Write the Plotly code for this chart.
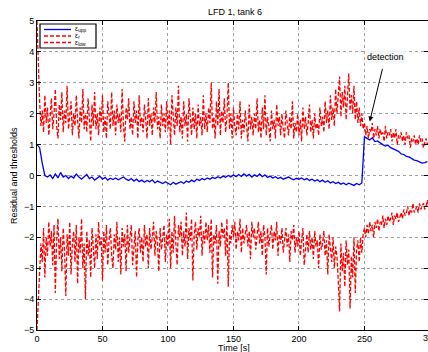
import plotly.graph_objects as go

# ---------------- data ----------------
t_thr = list(range(0, 300))

upper = [
 5.0, 3.2, 2.4, 1.6, 2.1, 1.4, 2.6, 1.7, 2.2, 1.3,
 1.9, 2.5, 1.5, 2.0, 2.8, 1.6, 1.2, 2.3, 1.8, 2.7,
 1.4, 2.1, 1.7, 2.9, 1.5, 1.9, 2.4, 1.3, 2.0, 1.6,
 2.6, 1.8, 1.2, 2.2, 1.7, 2.8, 1.5, 2.0, 1.4, 2.5,
 1.9, 1.1, 2.3, 1.6, 2.7, 1.5, 2.0, 1.3, 2.2, 1.7,
 2.6, 1.4, 1.9, 1.2, 2.4, 1.8, 1.5, 2.7, 1.6, 2.1,
 1.3, 2.3, 1.7, 2.0, 1.4, 2.8, 1.6, 1.1, 2.2, 1.8,
 2.5, 1.5, 1.9, 1.3, 2.4, 1.7, 2.1, 1.2, 2.6, 1.6,
 1.9, 1.4, 2.3, 1.8, 1.2, 2.5, 1.6, 2.0, 1.3, 2.2,
 1.7, 2.7, 1.5, 1.9, 1.2, 2.3, 1.6, 2.0, 1.4, 2.4,
 1.5, 2.1, 1.0, 2.6, 1.7, 1.3, 2.2, 1.6, 2.9, 1.4,
 1.9, 1.2, 2.4, 1.6, 2.0, 1.1, 2.5, 1.7, 1.3, 2.2,
 1.5, 2.0, 1.2, 2.3, 1.6, 1.9, 1.3, 2.6, 1.5, 2.0,
 1.4, 2.2, 1.7, 3.0, 1.5, 1.9, 1.2, 2.4, 1.6, 2.8,
 1.3, 2.1, 1.7, 2.5, 1.4, 1.9, 3.0, 1.5, 2.0, 1.2,
 2.2, 1.6, 1.3, 2.0, 1.5, 2.4, 1.2, 1.8, 1.4, 2.1,
 1.6, 1.1, 2.3, 1.5, 1.9, 1.3, 2.0, 1.5, 2.5, 1.4,
 1.8, 1.2, 2.2, 1.5, 2.6, 1.3, 1.9, 1.6, 1.1, 2.1,
 1.5, 1.8, 1.2, 2.3, 1.6, 1.9, 1.3, 2.0, 1.5, 1.2,
 2.1, 1.6, 1.3, 1.9, 1.5, 2.4, 1.2, 1.7, 1.4, 2.0,
 1.3, 1.8, 1.1, 2.2, 1.5, 1.9, 1.3, 1.7, 2.3, 1.4,
 1.8, 1.2, 2.0, 1.5, 1.7, 1.3, 2.2, 1.6, 1.9, 1.4,
 2.4, 1.7, 2.1, 1.5, 2.6, 1.8, 2.2, 1.6, 2.8, 2.0,
 2.5, 3.2, 1.9, 2.7, 2.2, 2.9, 1.8, 2.4, 3.3, 2.1,
 2.6, 2.0, 2.9, 1.8, 2.4, 1.7, 2.2, 1.6, 2.0, 1.5,
 1.7, 1.3, 1.6, 1.2, 1.5, 1.4, 1.7, 1.2, 1.5, 1.3,
 1.6, 1.2, 1.5, 1.3, 1.4, 1.1, 1.6, 1.2, 1.4, 1.3,
 1.5, 1.1, 1.4, 1.2, 1.5, 1.0, 1.3, 1.2, 1.4, 1.1,
 1.3, 1.0, 1.4, 1.2, 1.3, 0.9, 1.2, 1.1, 1.3, 1.0,
 1.2, 1.0, 1.3, 1.1, 1.2, 0.9, 1.1, 1.2, 1.0, 1.1,
]

lower = [
 -5.0, -4.2, -3.0, -2.2, -2.8, -1.7, -3.3, -2.0, -2.6, -1.5,
 -2.3, -1.8, -2.9, -1.6, -3.8, -2.1, -1.4, -2.7, -2.0, -3.1,
 -1.7, -2.4, -3.9, -1.9, -2.6, -1.5, -3.2, -2.2, -1.8, -2.8,
 -1.6, -3.5, -2.0, -2.5, -1.4, -3.0, -2.2, -4.0, -1.8, -2.6,
 -2.1, -3.3, -1.7, -2.4, -3.0, -1.9, -2.7, -1.5, -2.3, -2.0,
 -3.4, -1.8, -2.5, -1.6, -2.9, -2.1, -1.7, -2.6, -3.0, -1.9,
 -2.4, -1.5, -2.8, -2.0, -3.2, -1.7, -2.3, -1.9, -3.1, -1.6,
 -2.5, -2.0, -1.6, -2.9, -2.2, -1.8, -3.3, -2.1, -1.7, -2.5,
 -2.0, -2.8, -1.6, -2.3, -1.9, -3.0, -1.7, -2.4, -2.0, -1.5,
 -2.6, -1.8, -2.2, -3.1, -1.7, -2.4, -2.0, -1.6, -2.8, -1.9,
 -2.3, -1.4, -3.0, -1.8, -2.5, -1.3, -2.2, -2.9, -1.6, -2.0,
 -1.5, -2.6, -1.8, -2.3, -1.2, -2.7, -1.7, -2.1, -1.4, -3.4,
 -1.9, -1.5, -2.4, -1.7, -2.0, -1.3, -2.6, -1.8, -2.2, -1.5,
 -2.1, -1.6, -2.5, -1.4, -3.3, -1.9, -2.2, -1.6, -3.5, -1.8,
 -2.3, -1.5, -2.0, -1.7, -2.6, -1.4, -3.6, -1.9, -2.2, -1.6,
 -2.0, -1.5, -2.4, -1.8, -2.1, -1.4, -2.5, -1.7, -2.2, -1.9,
 -1.6, -2.3, -1.8, -2.7, -1.5, -2.0, -1.7, -2.4, -1.9, -1.5,
 -2.2, -1.8, -2.6, -1.6, -2.0, -3.2, -1.7, -2.3, -1.9, -1.6,
 -2.4, -1.8, -2.1, -1.5, -2.6, -1.9, -2.2, -1.7, -2.5, -2.0,
 -1.7, -2.3, -1.9, -2.8, -1.8, -2.1, -1.6, -2.5, -2.0, -2.3,
 -1.8, -2.6, -2.1, -1.7, -2.9, -2.2, -1.9, -2.5, -1.8, -2.4,
 -2.0, -2.7, -1.8, -2.3, -2.1, -3.0, -1.9, -2.4, -2.2, -1.8,
 -2.6, -2.1, -3.2, -1.9, -2.4, -2.8, -2.0, -3.0, -2.3, -2.6,
 -3.4, -4.4, -2.2, -3.1, -2.5, -3.6, -2.1, -2.9, -2.4, -4.3,
 -2.6, -3.3, -2.0, -3.8, -2.4, -2.1, -2.8, -2.0, -2.5, -1.9,
 -1.7, -2.0, -1.6, -1.9, -1.5, -1.8, -1.6, -2.0, -1.5, -1.7,
 -1.4, -1.8, -1.5, -1.6, -1.3, -1.7, -1.4, -1.6, -1.3, -1.5,
 -1.4, -1.2, -1.6, -1.3, -1.4, -1.2, -1.5, -1.3, -1.2, -1.4,
 -1.1, -1.3, -1.2, -1.0, -1.3, -1.1, -1.2, -0.9, -1.2, -1.1,
 -1.0, -1.2, -0.9, -1.1, -1.0, -0.9, -1.1, -1.0, -0.8, -1.0,
]

t_res = list(range(0, 300, 2))
residual = [
 1.0, 0.9, 0.4, 0.0, -0.05, 0.02, -0.1, 0.05, -0.08, 0.1,
 -0.05, 0.0, -0.1, -0.02, -0.08, 0.05, -0.05, -0.12, -0.04, 0.03,
 -0.1, -0.05, -0.15, -0.08, -0.02, -0.12, -0.06, -0.15, -0.09, -0.13,
 -0.08, -0.14, -0.1, -0.05, -0.12, -0.16, -0.1, -0.18, -0.12, -0.2,
 -0.15, -0.22, -0.16, -0.2, -0.14, -0.24, -0.18, -0.22, -0.26, -0.2,
 -0.25, -0.3, -0.22, -0.28, -0.24, -0.2, -0.26, -0.18, -0.22, -0.15,
 -0.2, -0.12, -0.16, -0.1, -0.14, -0.08, -0.12, -0.06, -0.1, -0.04,
 -0.08, -0.02, -0.06, 0.0, -0.05, 0.02, -0.04, 0.03, -0.03, 0.05,
 -0.02, 0.04, -0.05, 0.02, -0.03, 0.05, -0.04, 0.02, -0.06, -0.02,
 -0.08, -0.04, -0.1, -0.06, -0.12, -0.08, -0.05, -0.1, -0.14, -0.09,
 -0.12, -0.08, -0.14, -0.1, -0.16, -0.12, -0.18, -0.14, -0.2, -0.15,
 -0.22, -0.17, -0.24, -0.2, -0.26, -0.22, -0.28, -0.24, -0.3, -0.25,
 -0.28, -0.32, -0.26, -0.3, -0.24, 1.25, 1.2, 1.15, 1.22, 1.1,
 1.12, 1.05, 1.0, 0.95, 0.98, 0.9, 0.85, 0.82, 0.78, 0.7,
 0.68, 0.62, 0.6, 0.55, 0.5, 0.48, 0.45, 0.4, 0.42, 0.45,
]

series_names = ["\u03b5<sub>upp</sub>", "\u03b5<sub>r</sub>", "\u03b5<sub>low</sub>"]
x_ticks = [0, 50, 100, 150, 200, 250, 300]
y_ticks = [-5, -4, -3, -2, -1, 0, 1, 2, 3, 4, 5]
y_tick_text = ["\u22125", "\u22124", "\u22123", "\u22122", "\u22121", "0", "1", "2", "3", "4", "5"]

# ---------------- figure ----------------
FONT = "Liberation Sans, Arial, Helvetica, sans-serif"
W, H = 428, 352
L, R, T, B = 37, 0, 21, 22
PW, PH = W - L - R, H - T - B

def px_x(p):  # screen pixel -> paper x
    return (p - L) / PW

def px_y(p):  # screen pixel -> paper y
    return (H - B - p) / PH

fig = go.Figure()
fig.add_trace(go.Scatter(x=t_res, y=residual, mode="lines", name=series_names[0],
                         line=dict(color="#0000ff", width=1.3), showlegend=False))
fig.add_trace(go.Scatter(x=t_thr, y=upper, mode="lines", name=series_names[1],
                         line=dict(color="#ff0000", width=1.3, dash="4px,2px"), showlegend=False))
fig.add_trace(go.Scatter(x=t_thr, y=lower, mode="lines", name=series_names[2],
                         line=dict(color="#ff0000", width=1.3, dash="4px,2px"), showlegend=False))

axis_common = dict(showline=True, linecolor="black", linewidth=1, mirror="ticks",
                   ticks="inside", ticklen=4, tickcolor="black",
                   showgrid=True, gridcolor="#a0a0a0", griddash="dot", gridwidth=1,
                   zeroline=False, tickfont=dict(size=9, color="black", family=FONT))

fig.update_xaxes(range=[0, 298.5], tickvals=x_ticks, **axis_common)
fig.update_yaxes(range=[-5, 5], tickvals=y_ticks, ticktext=y_tick_text, **axis_common)

# axis titles
fig.add_annotation(x=px_x(234), y=px_y(347.5), xref="paper", yref="paper", text="Time [s]",
                   showarrow=False, xanchor="center", yanchor="middle",
                   font=dict(size=9, color="black", family=FONT))
fig.add_annotation(x=px_x(14), y=px_y(176), xref="paper", yref="paper",
                   text="Residual and thresholds", textangle=-90, showarrow=False,
                   xanchor="center", yanchor="middle",
                   font=dict(size=9, color="black", family=FONT))
# cut-off 300 tick label at the right edge
fig.add_annotation(x=px_x(430), y=px_y(337.5), xref="paper", yref="paper", text="300",
                   showarrow=False, xanchor="center", yanchor="middle",
                   font=dict(size=9, color="black", family=FONT))

# detection arrow
fig.add_annotation(x=254, y=1.75, ax=266, ay=3.85, xref="x", yref="y", axref="x", ayref="y",
                   text="detection", showarrow=True, arrowhead=2, arrowsize=1, arrowwidth=1,
                   arrowcolor="black", bgcolor="rgba(245,245,245,0.95)",
                   font=dict(size=9, color="black", family=FONT), standoff=0, startstandoff=6)

# compact MATLAB-style legend
fig.add_shape(type="rect", xref="paper", yref="paper",
              x0=px_x(40), x1=px_x(96), y0=px_y(48), y1=px_y(24),
              line=dict(color="black", width=1.2), fillcolor="white", layer="above")
leg_y = [29.5, 36, 42.5]
leg_styles = [dict(color="#0000ff", width=1.3), dict(color="#ff0000", width=1.3, dash="4px,2px"),
              dict(color="#ff0000", width=1.3, dash="4px,2px")]
for yy, st, nm in zip(leg_y, leg_styles, series_names):
    fig.add_shape(type="line", xref="paper", yref="paper",
                  x0=px_x(44), x1=px_x(71), y0=px_y(yy), y1=px_y(yy), line=st, layer="above")
    fig.add_annotation(x=px_x(73), y=px_y(yy), xref="paper", yref="paper", text=nm,
                       showarrow=False, xanchor="left", yanchor="middle",
                       font=dict(size=7, color="black", family=FONT))

fig.update_layout(
    width=W, height=H,
    margin=dict(l=L, r=R, t=T, b=B),
    paper_bgcolor="white", plot_bgcolor="white",
    title=dict(text="LFD 1, tank 6", x=235 / W, xanchor="center", y=1 - 11.5 / H, yanchor="middle",
               font=dict(size=9, color="black", family=FONT)),
    showlegend=False,
)

fig.write_html("out.html", config={"displayModeBar": False},
               post_script="document.body.style.margin='0';document.body.style.overflow='hidden';")
